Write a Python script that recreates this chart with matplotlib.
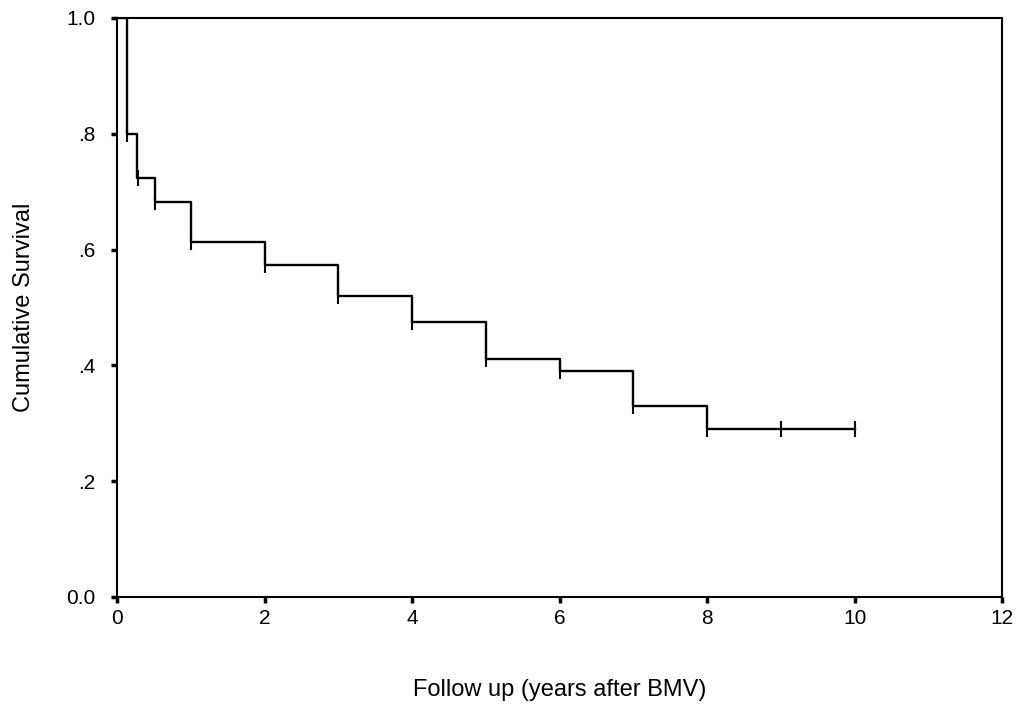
import numpy as np
import matplotlib.pyplot as plt

plt.rcParams['font.family'] = ['Liberation Sans', 'DejaVu Sans']

# Kaplan-Meier estimate: step times (years) and survival after each step
step_times = [0.0, 0.13, 0.27, 0.52, 1.0, 2.0, 3.0, 4.0, 5.0, 6.0, 7.0, 8.0]
survival = [1.0, 0.80, 0.724, 0.682, 0.613, 0.573, 0.520, 0.475, 0.411, 0.390, 0.329, 0.290]
end_time = 10.0

# censored observations
censor_times = [0.13, 0.28, 0.52, 1.0, 2.0, 3.0, 4.0, 5.0, 6.0, 7.0, 8.0, 9.0, 10.0]

x_ticks = [0, 2, 4, 6, 8, 10, 12]
y_ticks = [0.0, 0.2, 0.4, 0.6, 0.8, 1.0]
y_tick_labels = ["0.0", ".2", ".4", ".6", ".8", "1.0"]

fig = plt.figure(figsize=(10.2, 7.07), dpi=100)
ax = fig.add_axes([0.1147, 0.1556, 0.868, 0.819])

xs = step_times + [end_time]
ys = survival + [survival[-1]]
ax.step(xs, ys, where='post', color='black', lw=1.7)

# censor marks sit on the curve value at that time
idx = np.searchsorted(step_times, censor_times, side='right') - 1
censor_y = np.array(survival)[idx]
ax.plot(censor_times, censor_y, linestyle='none', marker='|', color='black',
        markersize=11, markeredgewidth=1.5)

ax.set_xlim(0, 12)
ax.set_ylim(0, 1.0)
ax.set_xticks(x_ticks)
ax.set_xticklabels([str(t) for t in x_ticks])
ax.set_yticks(y_ticks)
ax.set_yticklabels(y_tick_labels)
ax.tick_params(direction='out', length=4.5, width=2.5, labelsize=15)
ax.tick_params(axis='y', pad=11)
ax.tick_params(axis='x', pad=4)

for sp in ax.spines.values():
    sp.set_linewidth(1.5)

ax.set_xlabel("Follow up (years after BMV)", fontsize=17, va='center', ha='center')
ax.set_ylabel("Cumulative Survival", fontsize=17, va='center', ha='center')
ax.xaxis.set_label_coords(0.5, -0.16)
ax.yaxis.set_label_coords(-0.105, 0.5)

fig.savefig("out.png", dpi=100)
